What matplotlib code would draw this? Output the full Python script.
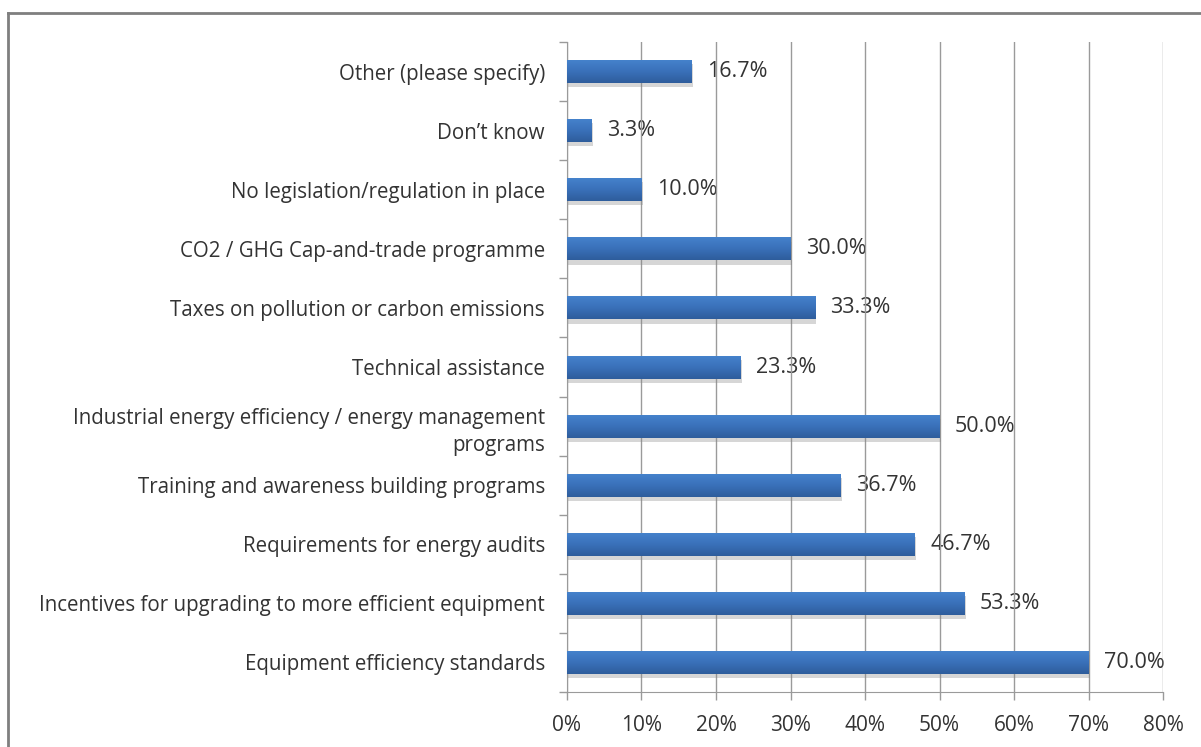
import numpy as np
import matplotlib.pyplot as plt
import matplotlib.patheffects as pe
from matplotlib.lines import Line2D
from matplotlib.colors import LinearSegmentedColormap
from matplotlib.ticker import FuncFormatter, FixedLocator

# --- data (top to bottom as shown) ---
categories = [
    "Other (please specify)",
    "Don\u2019t know",
    "No legislation/regulation in place",
    "CO2 / GHG Cap-and-trade programme",
    "Taxes on pollution or carbon emissions",
    "Technical assistance",
    "Industrial energy efficiency / energy management\nprograms",
    "Training and awareness building programs",
    "Requirements for energy audits",
    "Incentives for upgrading to more efficient equipment",
    "Equipment efficiency standards",
]
values = [16.7, 3.3, 10.0, 30.0, 33.3, 23.3, 50.0, 36.7, 46.7, 53.3, 70.0]
xticks = [0, 10, 20, 30, 40, 50, 60, 70, 80]

BAR_COLOR = '#3a70b8'
GRID_COLOR = '#9a9a9a'
TEXT_COLOR = '#333333'

plt.rcParams['font.family'] = ['Open Sans', 'DejaVu Sans']

fig = plt.figure(figsize=(12.01, 7.47), dpi=100)
ax = fig.add_axes([0.4721, 0.0736, 0.4963, 0.8701])

ypos = list(range(len(categories)))[::-1]
bars = ax.barh(ypos, values, height=0.39, color=BAR_COLOR, zorder=3,
               path_effects=[pe.SimplePatchShadow(offset=(1, -3), shadow_rgbFace='#8a8a8a', alpha=0.35),
                             pe.Normal()])

# vertical gradient on each bar (lighter top, darker bottom)
cmap = LinearSegmentedColormap.from_list('bar', ['#2e5d9c', '#3a71ba', '#4683cd'])
grad = np.linspace(0, 1, 64).reshape(-1, 1)
for b in bars:
    x0, y0 = b.get_x(), b.get_y()
    im = ax.imshow(grad, cmap=cmap, aspect='auto', origin='lower',
                   extent=(x0, x0 + b.get_width(), y0, y0 + b.get_height()), zorder=3.5)
    im.set_clip_path(b)

for y, v in zip(ypos, values):
    ax.annotate(f"{v:.1f}%", (v, y), xytext=(11, 0), textcoords='offset points',
                ha='left', va='center', fontsize=15.5, color=TEXT_COLOR, zorder=1)

ax.set_xlim(0, 80)
ax.set_ylim(-0.5, len(categories) - 0.5)
ax.set_xticks(xticks)
ax.xaxis.set_major_formatter(FuncFormatter(lambda x, p: f"{x:.0f}%"))
ax.set_yticks(ypos)
ax.set_yticklabels(categories, fontsize=14.8, color=TEXT_COLOR, ha='right', linespacing=1.4)
ax.yaxis.set_minor_locator(FixedLocator([i - 0.5 for i in range(len(categories) + 1)]))
ax.tick_params(axis='y', which='major', length=0, pad=16)
ax.tick_params(axis='y', which='minor', length=6, color=GRID_COLOR, width=1)
ax.tick_params(axis='x', which='major', length=6, color=GRID_COLOR, width=1,
               labelsize=15, labelcolor=TEXT_COLOR, pad=10.5)

ax.grid(axis='x', color=GRID_COLOR, linewidth=1, zorder=2)
ax.set_axisbelow(False)
for gl in ax.get_xgridlines():
    gl.set_zorder(2)
for s in ['top', 'right']:
    ax.spines[s].set_visible(False)
ax.spines['left'].set_color(GRID_COLOR)
ax.spines['bottom'].set_color(GRID_COLOR)

# outer frame (top and left edges visible)
fig.add_artist(Line2D([8 / 1201, 1.0], [1 - 13 / 747, 1 - 13 / 747], color='#7f7f7f', linewidth=2))
fig.add_artist(Line2D([8 / 1201, 8 / 1201], [0, 1 - 13 / 747], color='#7f7f7f', linewidth=2))

fig.savefig('out.png', dpi=100)
